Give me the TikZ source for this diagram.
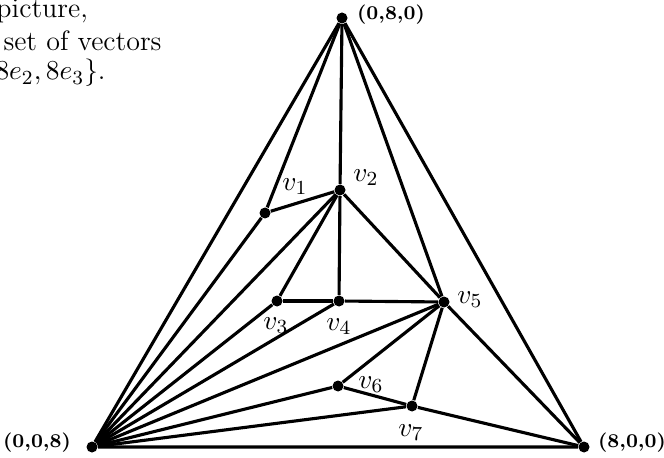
\documentclass[tikz,border=0pt]{standalone}
\begin{document}
\begin{tikzpicture}[x=0.4pt,y=-0.4pt,
  pt/.style={circle,fill=black,inner sep=0pt,minimum size=4.4pt},
  lab/.style={inner sep=0pt,font=\fontsize{11}{13}\selectfont},
  cor/.style={inner sep=0pt,font=\fontsize{7.8}{9}\selectfont\bfseries},
  txt/.style={inner sep=0pt,anchor=base west,font=\fontsize{11.2}{13}\selectfont},
  edge/.style={line width=1.25pt}]
\useasboundingbox (0,0) rectangle (664,458);
% caption text, cut off at the left
\node[txt] (c1) at (-4,18) {picture,};
\node[txt] (c2) at (3,51) {set of vectors};
\node[txt] (c3) at (-5,80) {$8e_2, 8e_3\}$.};
% corners
\node[pt] (T) at (342,18) {};
\node[pt] (L) at (92,447) {};
\node[pt] (R) at (584,447) {};
\node[cor] at (391,15) {(0,8,0)};
\node[cor] at (37,443) {(0,0,8)};
\node[cor] at (632,443) {(8,0,0)};
% inner points
\node[pt] (v1) at (265,213) {};
\node[pt] (v2) at (340,190) {};
\node[pt] (v3) at (277,301) {};
\node[pt] (v4) at (339,301) {};
\node[pt] (v5) at (444,302) {};
\node[pt] (v6) at (338,386) {};
\node[pt] (v7) at (412,406) {};
\node[lab] at (295,187) {$v_1$};
\node[lab] at (366,178) {$v_2$};
\node[lab] at (276,326) {$v_3$};
\node[lab] at (339,327) {$v_4$};
\node[lab] at (470,300) {$v_5$};
\node[lab] at (371,385) {$v_6$};
\node[lab] at (411,433) {$v_7$};
% triangle
\draw[edge] (T)--(L)--(R)--(T);
% edges
\draw[edge] (T)--(v1); \draw[edge] (T)--(v2); \draw[edge] (T)--(v5);
\draw[edge] (v1)--(v2); \draw[edge] (v2)--(v4); \draw[edge] (v2)--(v3);
\draw[edge] (v2)--(v5); \draw[edge] (v3)--(v4); \draw[edge] (v4)--(v5);
\draw[edge] (v5)--(v6); \draw[edge] (v5)--(v7); \draw[edge] (v5)--(R);
\draw[edge] (v6)--(v7); \draw[edge] (v7)--(R);
\foreach \p in {v1,v2,v3,v4,v5,v6,v7}
  \draw[edge] (L)--(\p);
\end{tikzpicture}
\end{document}
